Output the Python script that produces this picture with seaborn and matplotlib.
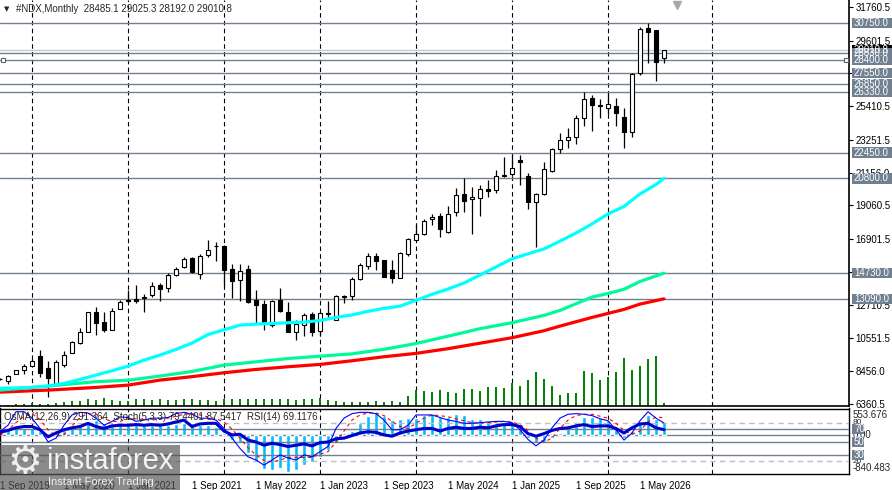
import numpy as np
import pandas as pd
import seaborn as sns
import matplotlib
matplotlib.use("Agg")
import matplotlib.pyplot as plt
from matplotlib.patches import Rectangle
from matplotlib.transforms import IdentityTransform

# monthly bars Sep 2019 .. Aug 2026
months = pd.date_range("2019-09-01", "2026-08-01", freq="MS")
idx = np.arange(len(months))

opens = [7950, 7825, 8273, 8508, 8806, 9403, 8636, 7654, 8828, 9638,
         10235, 10960, 12219, 11579, 11088, 12411, 13000, 13073, 13160, 13307,
         13969, 13798, 14587, 15099, 15697, 14651, 15900, 16485, 16485, 14971,
         14288, 14971, 13009, 12753, 11409, 13009, 12262, 10982, 11409, 12113,
         11046, 12156, 11729, 13180, 13286, 14331, 15206, 15824, 15569, 14928,
         14438, 15932, 16870, 17233, 18172, 18406, 17383, 18662, 19772, 19473,
         19516, 20092, 20049, 20966, 21051, 21950, 20945, 19260, 19772, 21286,
         22651, 23249, 23463, 24635, 25915, 25489, 25276, 25425, 24700, 23740,
         27515, 30395, 30288, 28485.1]
highs = [8000, 8209, 8530, 8913, 9211, 9809, 9105, 9147, 9766, 10385,
         11195, 12262, 12582, 12262, 12475, 13008, 13649, 13969, 13393, 14182,
         14075, 14715, 15142, 15782, 15740, 15952, 16848, 16699, 16520, 15291,
         15291, 15248, 13649, 13009, 13009, 13755, 12902, 11729, 12198, 12262,
         12262, 12966, 13329, 13340, 14502, 15355, 16037, 15995, 15600, 15569,
         16101, 16954, 17809, 18172, 18513, 18556, 19025, 20156, 20796, 20262,
         20369, 20689, 21329, 22182, 22289, 22289, 21116, 19836, 21862, 22715,
         23718, 23995, 24848, 26342, 26128, 25851, 26278, 25915, 25276, 27515,
         30501, 30758, 30288, 29025.3]
lows = [7880, 7654, 8250, 8252, 8785, 8102, 6822, 7654, 8700, 9595,
        10193, 10939, 10769, 10939, 11088, 12411, 12795, 12795, 12262, 13222,
        12966, 13542, 14545, 15035, 14757, 14352, 15782, 15526, 13900, 13158,
        12966, 12838, 11515, 11089, 11302, 12262, 10950, 10449, 10705, 10705,
        10705, 11942, 11729, 12795, 13009, 14288, 14971, 14928, 14480, 14075,
        14400, 15824, 16849, 17169, 17809, 17020, 17319, 18385, 18662, 17233,
        18385, 19623, 19878, 20860, 20945, 20369, 18812, 16380, 19729, 21222,
        22395, 22715, 22993, 24144, 23847, 24635, 24913, 24166, 22759, 23463,
        27409, 28198, 27046, 28192.0]
closes = [7960, 8145, 8508, 8764, 9105, 8358, 8038, 9019, 9467, 10299,
          10960, 12240, 11515, 11088, 12326, 12859, 12966, 12966, 13200, 13905,
          13713, 14609, 14971, 15654, 14779, 15846, 16208, 16470, 14928, 14246,
          14886, 12902, 12689, 11515, 12966, 12305, 10982, 11451, 12049, 10982,
          12156, 12092, 13265, 13300, 14331, 15248, 15824, 15526, 14502, 14438,
          16037, 16892, 17212, 18086, 18300, 17532, 18513, 19708, 19367, 19580,
          20092, 19985, 20966, 21000, 21435, 21870, 19260, 19772, 21371, 22651,
          23248, 23463, 24635, 25851, 25489, 25425, 25532, 24955, 23740, 27473,
          30331, 30182, 28262, 29010.8]
volume_k = [15, 13, 23, 23, 33, 20, 23, 33, 40, 47,
            47, 67, 57, 80, 60, 47, 47, 67, 67, 60,
            67, 57, 57, 67, 67, 57, 57, 47, 67, 67,
            73, 73, 67, 67, 67, 67, 67, 57, 70, 70,
            77, 60, 50, 40, 40, 40, 40, 50, 40, 50,
            40, 100, 160, 150, 140, 160, 140, 130, 170, 170,
            150, 190, 190, 180, 230, 200, 260, 340, 270, 200,
            110, 130, 130, 350, 330, 260, 290, 340, 480, 360,
            400, 470, 500, 30]

ma_fast_idx = [0, 4, 6, 8, 10, 12, 14, 16, 18, 20, 22, 24, 26, 28, 30, 32, 34, 38, 40, 42,
               44, 46, 48, 50, 52, 54, 56, 58, 60, 62, 64, 66, 68, 70, 72, 74, 76, 78, 80, 82, 83]
ma_fast = [7356, 7420, 7505, 7676, 7932, 8209, 8486, 8785, 9169, 9489,
           9850, 10260, 10800, 11110, 11409, 11470, 11515, 11600, 11700, 11900,
           12060, 12290, 12480, 12620, 12990, 13380, 13720, 14100, 14610, 15130,
           15650, 15970, 16280, 16780, 17300, 17880, 18520, 19000, 19800, 20400, 20800]
ma_mid_idx = [0, 6, 12, 16, 20, 24, 28, 32, 36, 40, 44, 48, 52, 56, 60, 64, 68, 70, 74, 76, 78, 80, 83]
ma_mid = [7250, 7505, 7790, 7880, 8150, 8440, 8850, 9060, 9270, 9420, 9570, 9860,
          10230, 10700, 11180, 11560, 12030, 12350, 13200, 13430, 13700, 14200, 14730]
ma_slow_idx = [0, 6, 12, 16, 20, 24, 28, 32, 36, 40, 44, 48, 52, 56, 60, 64, 68, 70, 74, 76, 78, 80, 83]
ma_slow = [7121, 7249, 7420, 7569, 7889, 8110, 8359, 8572, 8743, 8892, 9127, 9383,
           9600, 9900, 10250, 10600, 11050, 11345, 11900, 12156, 12412, 12753, 13090]

osma = [108, 130, 158, 158, 144, 86, 36, 72, 108, 180,
        216, 288, 324, 252, 216, 216, 216, 230, 216, 216,
        216, 216, 230, 266, 252, 216, 216, 180, 36, -108,
        -180, -396, -576, -742, -756, -720, -792, -756, -648, -590,
        -468, -324, -180, 36, 86, 252, 418, 468, 418, 324,
        346, 374, 374, 432, 447, 396, 396, 447, 425, 353,
        339, 281, 266, 231, 209, 123, -65, -180, -151, -58,
        50, 123, 252, 396, 396, 374, 324, 180, -58, 86,
        252, 425, 339, 291.364]
stoch_main = [66, 76, 97, 97, 87, 71, 50, 56, 76, 92,
              96, 95, 87, 76, 82, 89, 88, 82, 84, 87,
              87, 88, 94, 96, 93, 87, 87, 84, 71, 56,
              40, 27, 22, 14, 22, 30, 25, 22, 30, 27,
              35, 43, 71, 87, 94, 96, 96, 94, 84, 69,
              69, 76, 92, 92, 92, 88, 84, 82, 79, 79,
              80, 81, 82, 82, 80, 69, 54, 44, 53, 72,
              87, 93, 94, 93, 91, 86, 83, 69, 53, 64,
              83, 97, 87, 79.4401]
stoch_signal = [60, 68, 80, 90, 94, 85, 69, 59, 61, 75,
                88, 94, 93, 86, 82, 82, 86, 86, 85, 84,
                86, 87, 90, 93, 94, 92, 89, 86, 81, 70,
                56, 41, 30, 21, 19, 22, 26, 26, 26, 26,
                31, 35, 50, 67, 84, 92, 95, 95, 91, 82,
                74, 71, 79, 87, 92, 91, 89, 86, 83, 80,
                79, 80, 81, 82, 81, 77, 68, 56, 50, 56,
                71, 84, 91, 93, 93, 90, 87, 79, 68, 62,
                67, 81, 89, 87.5417]
rsi = [65, 68, 72, 74, 74, 69, 58, 64, 69, 72,
       74, 79, 74, 71, 75, 76, 76, 77, 76, 77,
       76, 78, 81, 84, 74, 78, 79, 79, 67, 61,
       62, 53, 50, 45, 48, 46, 43, 45, 47, 44,
       49, 50, 55, 56, 60, 64, 66, 65, 61, 59,
       64, 67, 69, 71, 71, 67, 71, 73, 71, 71,
       73, 72, 75, 77, 77, 74, 63, 59, 63, 68,
       71, 72, 75, 77, 74, 75, 75, 71, 64, 72,
       78, 79, 72, 69.1176]

levels = [30750, 28830, 28400, 27550, 26330, 26850, 22450, 20800, 14730, 13090]
bid = 29010.8
price_ticks = [31760.5, 29601.5, 27506.0, 25410.5, 23251.5, 21156.0, 19060.5,
               16901.5, 14806.0, 12710.5, 10551.5, 8456.0, 6360.5]
grid_idx = [4, 16, 28, 40, 52, 64, 76, 89]
label_idx = list(range(0, 84, 8))
title = "#NDX,Monthly  28485.1 29025.3 28192.0 29010.8"
ind_title = "OsMA(12,26,9) 291.364  Stoch(5,3,3) 79.4401 87.5417  RSI(14) 69.1176"

sns.set_style("white")
plt.rcParams['font.family'] = ['Liberation Sans', 'DejaVu Sans']

W, H = 892, 490
fig = plt.figure(figsize=(W / 100, H / 100), dpi=100)
ax = fig.add_axes([0, 84 / H, 849 / W, 406 / H])
ai = fig.add_axes([0, 16 / H, 849 / W, 65.5 / H])
LVL = '#708090'

# ---- main price panel
ax.set_xlim(0, 849 / 8)
ax.set_ylim(6232.5, 32208.4)
for g in grid_idx:
    ax.axvline(g, color='black', lw=0.8, ls=(0, (4, 3)), zorder=1)
for lvl in levels:
    ax.axhline(lvl, color=LVL, lw=1.0, zorder=1.5)
ax.axhline(bid, color='#C8C8C8', lw=1.0, zorder=1.5)

ax.vlines(idx, 0, np.array(volume_k) / 4060, transform=ax.get_xaxis_transform(),
          color='#008000', lw=1.4, zorder=2)

o = np.array(opens); c = np.array(closes)
up = c >= o
ax.vlines(idx, lows, highs, color='black', lw=0.9, zorder=3)
ax.bar(idx, np.abs(c - o), bottom=np.minimum(o, c), width=0.62,
       color=np.where(up, 'white', 'black'), edgecolor='black', linewidth=0.8, zorder=4)

sns.lineplot(x=ma_slow_idx, y=ma_slow, ax=ax, color='#FF0000', lw=2.3, zorder=5, legend=False)
sns.lineplot(x=ma_mid_idx, y=ma_mid, ax=ax, color='#00FA9A', lw=2.3, zorder=5, legend=False)
sns.lineplot(x=ma_fast_idx, y=ma_fast, ax=ax, color='#00FFFF', lw=2.3, zorder=5, legend=False)

ax.yaxis.tick_right()
ax.set_yticks(price_ticks)
ax.set_yticklabels([f"{t:.1f}" for t in price_ticks])
ax.tick_params(axis='y', length=3, width=0.8, pad=1.5, labelsize=7, colors='black')
ax.set_xticks([])
ax.set_xlabel(''); ax.set_ylabel('')
for s in ['top', 'left']:
    ax.spines[s].set_visible(False)
for s in ['right', 'bottom']:
    ax.spines[s].set_color('black'); ax.spines[s].set_linewidth(1.2)

# markers at the ends of one level line and the shift triangle
ax.plot([0.004, 0.996], [28400, 28400], transform=ax.get_yaxis_transform(), ls='none',
        marker='s', ms=3.5, mfc='white', mec='#606060', mew=0.8, zorder=6, clip_on=False)
ax.plot([677 / 849], [0.988], transform=ax.transAxes, marker='v', ms=6,
        color='#A8A8A8', ls='none', zorder=6)

# ---- indicator panel
ai.set_xlim(0, 849 / 8)
ai.set_ylim(-840.5, 575)
for g in grid_idx:
    ai.axvline(g, color='black', lw=0.8, ls=(0, (4, 3)), zorder=1)
ai.axhline(0, color=LVL, lw=1.0, zorder=1)
ai.bar(idx, osma, width=0.55, color='#00BFFF', zorder=2)
ai.set_yticks([])
ai.set_xticks(label_idx)
ai.set_xticklabels([f"1 {months[i]:%b %Y}" for i in label_idx], ha='left')
ai.tick_params(axis='x', length=4, width=0.8, pad=1, labelsize=7, colors='black')
for s in ai.spines.values():
    s.set_color('black'); s.set_linewidth(1.0)

ao = ai.twinx()
ao.set_ylim(0.3, 102)
for lv in (80, 20):
    ao.axhline(lv, color='#BEBEBE', lw=1.0, ls=(0, (4, 3)), zorder=1)
for lv in (70, 50, 30):
    ao.axhline(lv, color=LVL, lw=1.0, zorder=1)
sns.lineplot(x=idx, y=stoch_signal, ax=ao, color='red', lw=0.8, ls=(0, (3, 3)), legend=False)
sns.lineplot(x=idx, y=stoch_main, ax=ao, color='blue', lw=0.8, legend=False)
sns.lineplot(x=idx, y=rsi, ax=ao, color='#0000CD', lw=2.2, legend=False)
ao.set_yticks([]); ao.set_ylabel('')
for s in ao.spines.values():
    s.set_visible(False)

# ---- right side labels and boxes (pixel positions from the axes transforms)
def ypx(axis, v):
    return axis.transData.transform((0, v))[1]

def box(y, text, w=40, fc=LVL, tc='white'):
    fig.add_artist(Rectangle((852, y - 5.2), w, 10.4, transform=IdentityTransform(),
                             facecolor=fc, edgecolor='none', zorder=20))
    fig.text(854, y, text, transform=IdentityTransform(), fontsize=7, color=tc,
             va='center', ha='left', zorder=21)

box(ypx(ax, bid), f"{bid:.1f}", fc='black')
for lvl in levels:
    box(ypx(ax, lvl), f"{lvl:.1f}")

for v, t in [(553.676, "553.676"), (0, "0.00"), (-840.483, "-840.483")]:
    y = ypx(ai, v)
    if v > 500:
        y -= 6
    if v < -800:
        y += 6
    fig.text(853, y, t, transform=IdentityTransform(), fontsize=7, va='center', zorder=19)
for lv in (80, 20):
    fig.text(853, ypx(ao, lv), str(lv), transform=IdentityTransform(), fontsize=6,
             va='center', zorder=19)
for lv in (70, 50, 30):
    box(ypx(ao, lv), str(lv), w=12)

# ---- header texts
fig.text(4 / W, 1 - 9 / H, "\u25bc", fontsize=5, va='center', family=['DejaVu Sans'])
fig.text(16 / W, 1 - 9 / H, title, fontsize=7, va='center')
fig.text(4 / W, 1 - 417 / H, ind_title, fontsize=7, va='center', zorder=7)

# ---- watermark
fig.add_artist(Rectangle((0, 0), 180, 45, transform=IdentityTransform(),
                         facecolor='#555555', alpha=0.68, edgecolor='none', zorder=30))
fig.text(25 / W, 1 - 462 / H, "\u2699", fontsize=28, color='#EEEEEE', ha='center',
         va='center', family=['DejaVu Sans'], zorder=31)
fig.text(47 / W, 1 - 461 / H, "instaforex", fontsize=21, color='#F2F2F2', va='center', zorder=31)
fig.text(48 / W, 1 - 482 / H, "Instant Forex Trading", fontsize=8, color='#EEEEEE',
         va='center', zorder=31)

fig.savefig('out.png', dpi=100)
